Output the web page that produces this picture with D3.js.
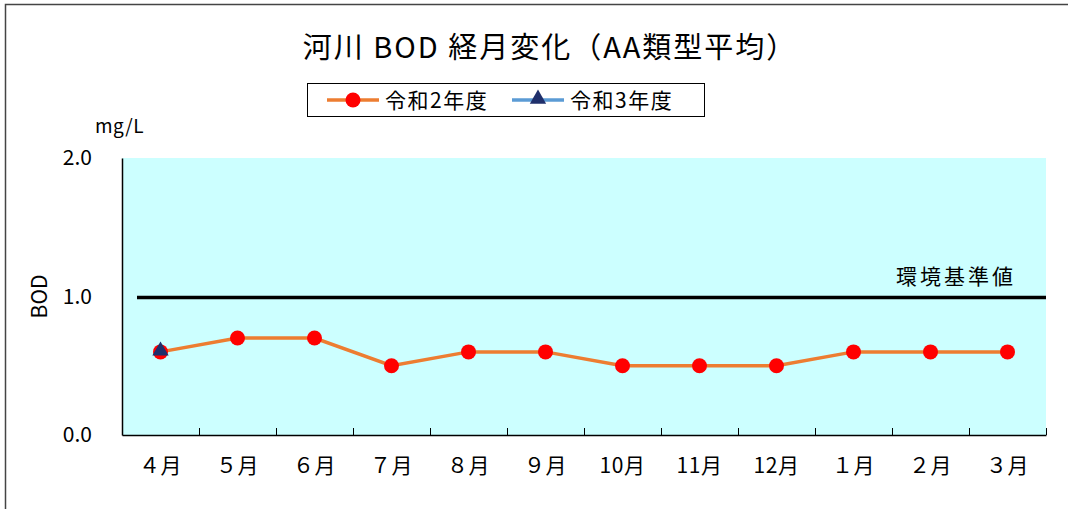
<!DOCTYPE html>
<meta charset="utf-8">
<style>
    body { margin: 0; background: #fff; }
    svg text { font-family: "Noto Sans CJK JP", "Noto Sans", sans-serif; fill: #000; font-weight: 400; }
</style>
<svg width="1068" height="509"></svg>
<script src="https://d3js.org/d3.v7.min.js"></script>
<script>

    // data
    var months = ["４月", "５月", "６月", "７月", "８月", "９月", "10月", "11月", "12月", "１月", "２月", "３月"];
    var r2 = [0.6, 0.7, 0.7, 0.5, 0.6, 0.6, 0.5, 0.5, 0.5, 0.6, 0.6, 0.6];
    var r3 = [0.6];
    var yTicks = [0, 1, 2];
    var standard = 1.0;

    var svg = d3.select("svg");

    var plotL = 122, plotR = 1046, plotT = 158, plotB = 435;

    var x = d3.scaleBand().domain(months).range([plotL, plotR]);
    var y = d3.scaleLinear().domain([0, 2]).range([plotB, plotT]);

    function cx(i) { return x(months[i]) + x.bandwidth() / 2; }

    // outer frame
    svg.append("path")
            .attr("d", "M5.5,509 V4.5 H1068")
            .attr("fill", "none")
            .attr("stroke", "#444")
            .attr("stroke-width", 1.5);

    // plot area
    svg.append("rect")
            .attr("x", plotL).attr("y", plotT)
            .attr("width", plotR - plotL).attr("height", plotB - plotT)
            .attr("fill", "#ccffff");

    // x axis
    var xAxis = svg.append("g")
            .attr("transform", "translate(0," + plotB + ")")
            .call(d3.axisBottom(x).tickSize(0).tickPadding(23));
    xAxis.select(".domain").attr("stroke", "#000").attr("stroke-width", 1.5);
    xAxis.selectAll("text").attr("font-size", 21).attr("dy", "0.71em").attr("letter-spacing", 0.5);

    // category tick marks, pointing up
    svg.append("g").selectAll("line")
            .data(months)
            .enter().append("line")
            .attr("x1", function(d, i) { return Math.round(plotL + x.step() * (i + 1)) + 0.5; })
            .attr("x2", function(d, i) { return Math.round(plotL + x.step() * (i + 1)) + 0.5; })
            .attr("y1", plotB).attr("y2", plotB - 7)
            .attr("stroke", "#000");

    // y axis
    var yAxis = svg.append("g")
            .attr("transform", "translate(" + plotL + ",0)")
            .call(d3.axisLeft(y).tickValues(yTicks).tickFormat(d3.format(".1f")).tickSize(0).tickPadding(30));
    yAxis.select(".domain").attr("stroke", "#000").attr("stroke-width", 1.5);
    yAxis.selectAll("text").attr("font-size", 21);

    svg.append("text")
            .attr("transform", "translate(47," + y(1) + ") rotate(-90)")
            .attr("text-anchor", "middle")
            .attr("font-size", 21)
            .text("BOD");

    svg.append("text")
            .attr("x", 95).attr("y", 133)
            .attr("font-size", 19)
            .attr("letter-spacing", 0.5)
            .text("mg/L");

    // environmental standard
    svg.append("line")
            .attr("x1", 137).attr("x2", plotR)
            .attr("y1", y(standard) + 1).attr("y2", y(standard) + 1)
            .attr("stroke", "#000")
            .attr("stroke-width", 3.5);

    svg.append("text")
            .attr("x", 896).attr("y", 284)
            .attr("font-size", 21)
            .attr("letter-spacing", 3)
            .text("環境基準値");

    var line = d3.line()
            .x(function(d, i) { return cx(i); })
            .y(function(d) { return y(d); });

    // 令和2年度
    svg.append("path")
            .datum(r2)
            .attr("d", line)
            .attr("fill", "none")
            .attr("stroke", "#ed7d31")
            .attr("stroke-width", 3.5);

    svg.append("g").selectAll("circle")
            .data(r2)
            .enter().append("circle")
            .attr("cx", function(d, i) { return cx(i); })
            .attr("cy", function(d) { return y(d); })
            .attr("r", 7.5)
            .attr("fill", "#ff0000");

    // 令和3年度
    svg.append("path")
            .datum(r3)
            .attr("d", line)
            .attr("fill", "none")
            .attr("stroke", "#5b9bd5")
            .attr("stroke-width", 3.5);

    var tri = d3.symbol().type(d3.symbolTriangle).size(115);
    svg.append("g").selectAll("path")
            .data(r3)
            .enter().append("path")
            .attr("d", tri)
            .attr("transform", function(d, i) {
                return "translate(" + cx(i) + "," + (y(d) - 1) + ")";
            })
            .attr("fill", "#1f2f6b");

    // title
    svg.append("text")
            .attr("x", 550).attr("y", 58)
            .attr("text-anchor", "middle")
            .attr("font-size", 29)
            .attr("letter-spacing", 2)
            .text("河川 BOD 経月変化（AA類型平均）");

    // legend
    var lg = svg.append("g");
    lg.append("rect")
            .attr("x", 307.5).attr("y", 83.5)
            .attr("width", 397).attr("height", 33)
            .attr("fill", "#fff")
            .attr("stroke", "#000");

    lg.append("line")
            .attr("x1", 327).attr("x2", 379).attr("y1", 100).attr("y2", 100)
            .attr("stroke", "#ed7d31").attr("stroke-width", 3.5);
    lg.append("circle")
            .attr("cx", 353).attr("cy", 100).attr("r", 7.5)
            .attr("fill", "#ff0000");
    lg.append("text")
            .attr("x", 385).attr("y", 108)
            .attr("font-size", 21)
            .attr("letter-spacing", 1.5)
            .text("令和2年度");

    lg.append("line")
            .attr("x1", 512).attr("x2", 564).attr("y1", 100).attr("y2", 100)
            .attr("stroke", "#5b9bd5").attr("stroke-width", 3.5);
    lg.append("path")
            .attr("d", tri)
            .attr("transform", "translate(538,99)")
            .attr("fill", "#1f2f6b");
    lg.append("text")
            .attr("x", 570).attr("y", 108)
            .attr("font-size", 21)
            .attr("letter-spacing", 1.5)
            .text("令和3年度");

</script>
